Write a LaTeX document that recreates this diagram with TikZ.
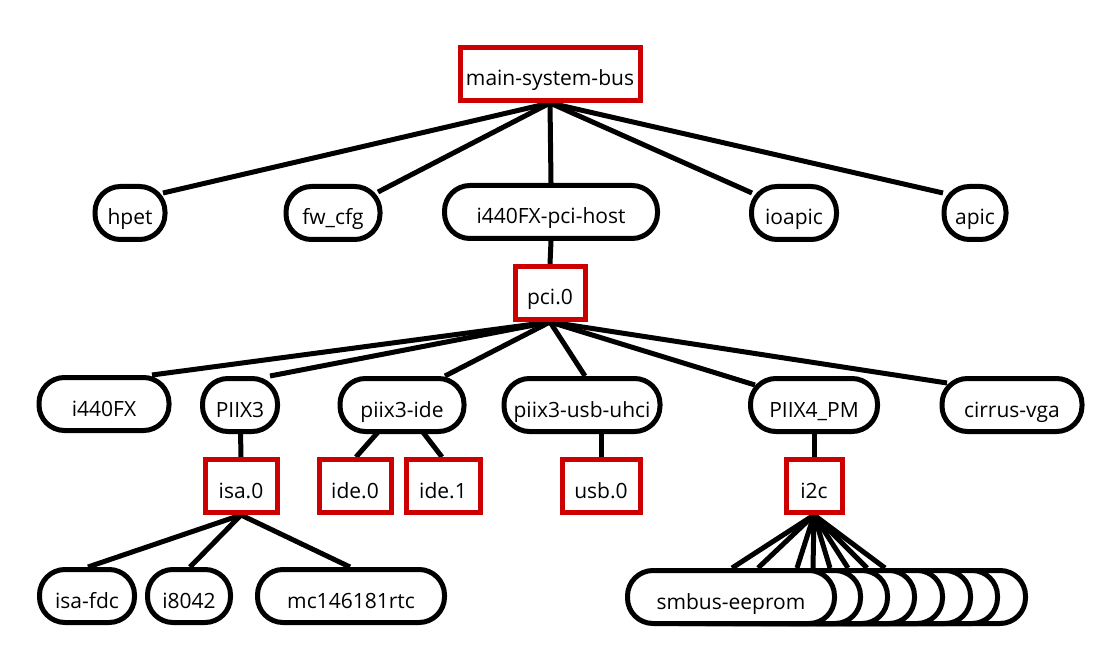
\documentclass[tikz,border=0pt]{standalone}
\usepackage{fontspec}
\setmainfont{Open Sans}
\usetikzlibrary{calc}
\pgfdeclarelayer{bg}
\pgfsetlayers{bg,main}
\definecolor{busred}{RGB}{204,0,0}
\begin{document}
\begin{tikzpicture}[x=1pt,y=-1pt,
  base/.style={line width=5pt,fill=white,minimum height=53pt,inner sep=0pt,
    text height=24pt,text depth=0pt,font=\fontsize{21}{25}\selectfont},
  dev/.style={base,draw=black,rounded corners=25.5pt},
  bus/.style={base,draw=busred},
  link/.style={line width=5pt,draw=black}]
\useasboundingbox (0,0) rectangle (1114,660);
% level 0
\node[bus,minimum width=180pt] (msb) at (550,74) {main-system-bus};
% level 1
\node[dev,minimum width=70pt]  (hpet)   at (130,213) {hpet};
\node[dev,minimum width=94pt]  (fwcfg)  at (333,213) {fw\_cfg};
\node[dev,minimum width=213pt] (host)   at (551,212) {i440FX-pci-host};
\node[dev,minimum width=85pt]  (ioapic) at (794,213) {ioapic};
\node[dev,minimum width=62pt]  (apic)   at (975,213) {apic};
\node[bus,minimum width=70pt]  (pci)    at (550,293) {pci.0};
% level 2
\node[dev,minimum width=130pt] (i440fx) at (104,404) {i440FX};
\node[dev,minimum width=75pt]  (piix3)  at (240,405) {PIIX3};
\node[dev,minimum width=124pt] (pide)   at (402,405) {piix3-ide};
\node[dev,minimum width=156pt] (usbh)   at (582,405) {piix3-usb-uhci};
\node[dev,minimum width=127pt] (piix4)  at (814,405) {PIIX4\_PM};
\node[dev,minimum width=140pt] (vga)    at (1012,405) {cirrus-vga};
% buses
\node[bus,minimum width=72pt] (isa)  at (241,486) {isa.0};
\node[bus,minimum width=72pt] (ide0) at (355,486) {ide.0};
\node[bus,minimum width=74pt] (ide1) at (443,486) {ide.1};
\node[bus,minimum width=78pt] (usb0) at (601,486) {usb.0};
\node[bus,minimum width=56pt] (i2c)  at (814,486) {i2c};
% level 3
\node[dev,minimum width=95pt]  (fdc) at (87,596)  {isa-fdc};
\node[dev,minimum width=83pt]  (kbd) at (189,596) {i8042};
\node[dev,minimum width=187pt] (rtc) at (351,596) {mc146181rtc};
\node[dev,minimum width=207pt] (e8) at (922,597) {};
\node[dev,minimum width=207pt] (e7) at (894,597) {};
\node[dev,minimum width=207pt] (e6) at (867,597) {};
\node[dev,minimum width=207pt] (e5) at (839,597) {};
\node[dev,minimum width=207pt] (e4) at (811,597) {};
\node[dev,minimum width=207pt] (e3) at (784,597) {};
\node[dev,minimum width=207pt] (e2) at (757,597) {};
\node[dev,minimum width=207pt] (e1) at (731,597) {smbus-eeprom};
\begin{pgfonlayer}{bg}
  \draw[link] (msb.south) -- ([shift={(33,-20)}]hpet.center);
  \draw[link] (msb.south) -- ([shift={(45,-21)}]fwcfg.center);
  \draw[link] (msb.south) -- (host.north);
  \draw[link] (msb.south) -- ([shift={(-42,-20)}]ioapic.center);
  \draw[link] (msb.south) -- ([shift={(-32,-20)}]apic.center);
  \draw[link] (host.south) -- (pci.north);
  \draw[link] (pci.south) -- ([xshift=48pt]i440fx.north);
  \draw[link] (pci.south) -- ([xshift=30pt]piix3.north);
  \draw[link] (pci.south) -- ([xshift=43pt]pide.north);
  \draw[link] (pci.south) -- ([xshift=3pt]usbh.north);
  \draw[link] (pci.south) -- ([shift={(-59,-20)}]piix4.center);
  \draw[link] (pci.south) -- ([shift={(-65,-22)}]vga.center);
  \draw[link] (piix3.center) -- (isa.north);
  \draw[link] (pide.center) -- ([xshift=1pt]ide0.north);
  \draw[link] (pide.center) -- ([xshift=-1pt]ide1.north);
  \draw[link] (usb0.north) -- (usb0.north |- usbh.center);
  \draw[link] (i2c.north) -- (i2c.north |- piix4.center);
  \draw[link] (isa.south) -- ([xshift=1pt]fdc.north);
  \draw[link] (isa.south) -- ([xshift=1pt]kbd.north);
  \draw[link] (isa.south) -- ([xshift=-1pt]rtc.north);
  \draw[link] (i2c.south) -- ([xshift=1pt]e1.north);
  \draw[link] (i2c.south) -- ([xshift=1pt]e2.north);
  \draw[link] (i2c.south) -- ([xshift=13pt]e3.north);
  \draw[link] (i2c.south) -- ([xshift=2pt]e4.north);
  \draw[link] (i2c.south) -- ([xshift=-9pt]e5.north);
  \draw[link] (i2c.south) -- ([xshift=-19pt]e6.north);
  \draw[link] (i2c.south) -- ([xshift=-27pt]e7.north);
  \draw[link] (i2c.south) -- ([xshift=-37pt]e8.north);
\end{pgfonlayer}
\end{tikzpicture}
\end{document}
